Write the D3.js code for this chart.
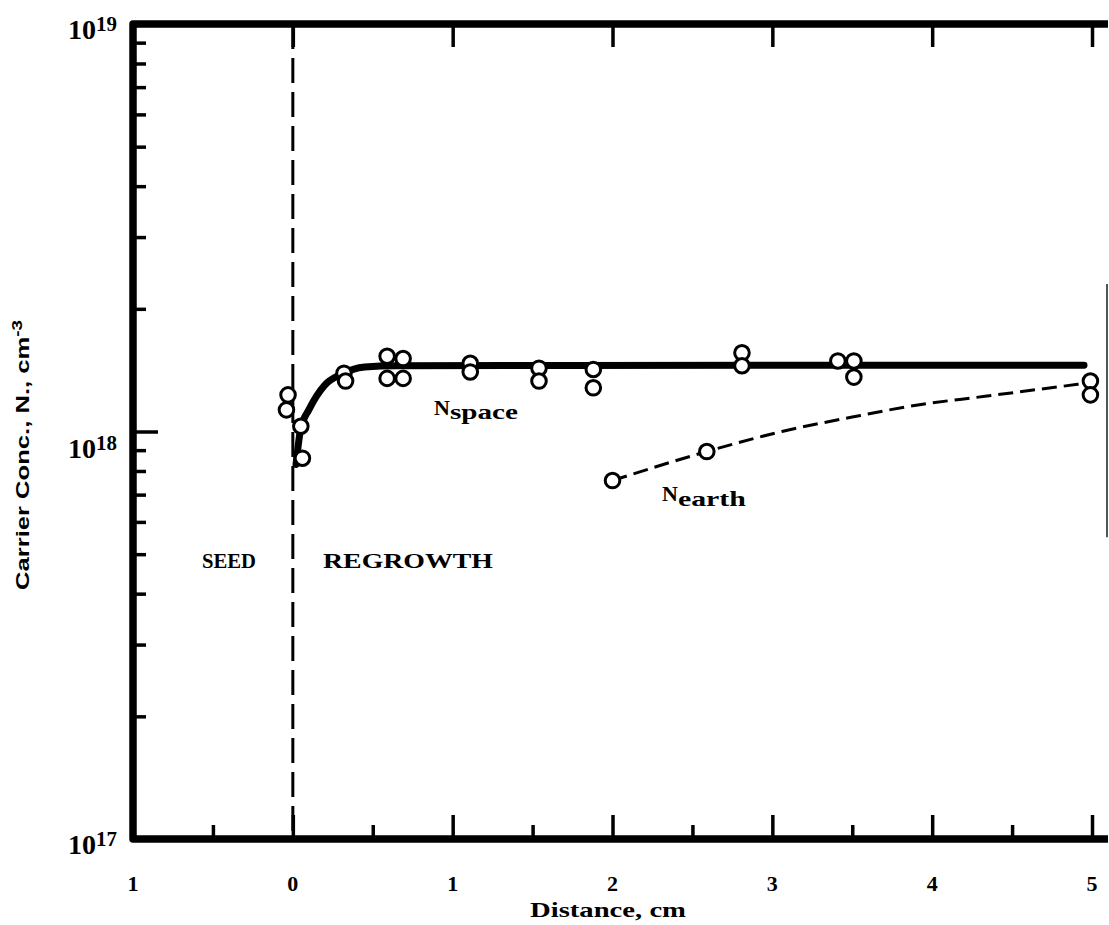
<!DOCTYPE html>
<meta charset="utf-8">
<script src="https://d3js.org/d3.v7.min.js"></script>
<style>
  body { margin: 0; background: #fff; }
  text { font-family: "Liberation Serif", "Times New Roman", serif; font-weight: bold; fill: #000; }
</style>
<body>
<script>

// values: distance (cm) and carrier concentration (cm^-3)
var spaceX = [-0.03, -0.04, 0.05, 0.06, 0.32, 0.33, 0.59, 0.59, 0.69, 0.69, 1.11, 1.11,
              1.54, 1.54, 1.88, 1.88, 2.81, 2.81, 3.41, 3.51, 3.51];
var spaceN = [1.23e18, 1.13e18, 1.03e18, 0.86e18, 1.39e18, 1.33e18, 1.53e18, 1.35e18,
              1.51e18, 1.35e18, 1.47e18, 1.40e18, 1.43e18, 1.33e18, 1.42e18, 1.28e18,
              1.56e18, 1.45e18, 1.49e18, 1.49e18, 1.36e18];
var earthX = [2.0, 2.59, 4.99, 4.99];
var earthN = [0.758e18, 0.893e18, 1.33e18, 1.23e18];

// drawn curves through the points
var spaceFitX = [0.02, 0.05, 0.1, 0.2, 0.3, 0.45, 0.65, 4.95];
var spaceFitN = [0.83e18, 1.02e18, 1.13e18, 1.30e18, 1.38e18, 1.44e18, 1.45e18, 1.455e18];
var earthFitX = [2.0, 2.59, 3.06, 3.5, 3.9, 4.33, 4.94];
var earthFitN = [0.758e18, 0.893e18, 1.0e18, 1.085e18, 1.16e18, 1.22e18, 1.31e18];

// ticks
var xMajor = [-1, 0, 1, 2, 3, 4, 5];
var xLabels = ["1", "0", "1", "2", "3", "4", "5"];
var xMinor = [-0.5, 0.5, 1.5, 2.5, 3.5, 4.5];
var yMajor = [1e17, 1e18, 1e19];
var yExp = ["17", "18", "19"];
var yMinor = [2e17, 3e17, 4e17, 5e17, 6e17, 7e17, 8e17, 9e17,
              2e18, 3e18, 4e18, 5e18, 6e18, 7e18, 8e18, 9e18];

var x = d3.scaleLinear().domain([-1, 5.1]).range([133, 1108]);
var y = d3.scaleLog().domain([1e17, 1e19]).range([839, 24]);

var svg = d3.select("body").append("svg")
    .attr("width", 1109)
    .attr("height", 925);

function tickStyle(g) {
  g.select(".domain").remove();
  g.selectAll("line").attr("stroke", "#000").attr("stroke-width", 3.5);
}

// bottom ticks (pointing up)
svg.append("g")
    .attr("transform", "translate(0," + y(1e17) + ")")
    .call(d3.axisBottom(x).tickValues(xMajor.slice(1)).tickSize(-24).tickFormat(""))
    .call(tickStyle);
svg.append("g")
    .attr("transform", "translate(0," + y(1e17) + ")")
    .call(d3.axisBottom(x).tickValues(xMinor).tickSize(-14).tickFormat(""))
    .call(tickStyle);

// top ticks (pointing down)
svg.append("g")
    .attr("transform", "translate(0," + y(1e19) + ")")
    .call(d3.axisTop(x).tickValues(xMajor.slice(1)).tickSize(-23).tickFormat(""))
    .call(tickStyle);

// left ticks (pointing right)
svg.append("g")
    .attr("transform", "translate(" + x(-1) + ",0)")
    .call(d3.axisLeft(y).tickValues(yMinor).tickSize(-13).tickFormat(""))
    .call(tickStyle);
svg.append("g")
    .attr("transform", "translate(" + x(-1) + ",0)")
    .call(d3.axisLeft(y).tickValues([1e18]).tickSize(-25).tickFormat(""))
    .call(tickStyle);

// frame
svg.append("path")
    .attr("d", "M" + x(5.1) + "," + y(1e19) + "H" + x(-1) + "V" + y(1e17) + "H" + x(5.1))
    .attr("fill", "none")
    .attr("stroke", "#000")
    .attr("stroke-width", 7.5)
    .attr("stroke-linejoin", "round");
svg.append("line")
    .attr("x1", x(5.1) - 1).attr("x2", x(5.1) - 1)
    .attr("y1", y(2.3e18)).attr("y2", y(0.55e18))
    .attr("stroke", "#555").attr("stroke-width", 2);

// seed / regrowth boundary
svg.append("line")
    .attr("x1", x(0)).attr("x2", x(0))
    .attr("y1", y(1e19)).attr("y2", y(1e17))
    .attr("stroke", "#000")
    .attr("stroke-width", 3)
    .attr("stroke-dasharray", "25,9");

// x tick labels
svg.selectAll(".xlab")
  .data(xMajor)
  .enter().append("text")
    .attr("class", "xlab")
    .attr("x", function(d) { return x(d); })
    .attr("y", 891)
    .attr("text-anchor", "middle")
    .style("font-size", "22px")
    .text(function(d, i) { return xLabels[i]; });

// y tick labels 10^n
var ylab = svg.selectAll(".ylab")
  .data(yMajor)
  .enter().append("text")
    .attr("class", "ylab")
    .attr("x", 117)
    .attr("y", function(d) { return y(d) + (d === 1e18 ? 26 : 15); })
    .attr("text-anchor", "end")
    .style("font-size", "28px");
ylab.append("tspan").text("10");
ylab.append("tspan")
    .attr("dy", -8)
    .style("font-size", "21px")
    .text(function(d, i) { return yExp[i]; });

// axis titles
svg.append("text")
    .attr("x", 608)
    .attr("y", 917)
    .attr("text-anchor", "middle")
    .attr("textLength", 156)
    .attr("lengthAdjust", "spacingAndGlyphs")
    .style("font-size", "21px")
    .text("Distance, cm");

var yt = svg.append("text")
    .attr("transform", "translate(29,455) rotate(-90)")
    .attr("text-anchor", "middle")
    .attr("textLength", 270)
    .attr("lengthAdjust", "spacingAndGlyphs")
    .style("font-family", "'Liberation Sans Narrow', 'Liberation Sans', sans-serif")
    .style("font-size", "19px");
yt.append("tspan").text("Carrier Conc., N., cm");
yt.append("tspan").attr("dy", -7).style("font-size", "14px").text("-3");

// curves
var line = d3.line()
    .x(function(d) { return x(d[0]); })
    .y(function(d) { return y(d[1]); })
    .curve(d3.curveMonotoneX);

svg.append("path")
    .datum(spaceFitX.map(function(d, i) { return [d, spaceFitN[i]]; }))
    .attr("d", line)
    .attr("fill", "none")
    .attr("stroke", "#000")
    .attr("stroke-width", 7)
    .attr("stroke-linecap", "round");

svg.append("path")
    .datum(earthFitX.map(function(d, i) { return [d, earthFitN[i]]; }))
    .attr("d", line)
    .attr("fill", "none")
    .attr("stroke", "#000")
    .attr("stroke-width", 3)
    .attr("stroke-dasharray", "15,7");

// data circles
var pts = spaceX.map(function(d, i) { return [d, spaceN[i]]; })
    .concat(earthX.map(function(d, i) { return [d, earthN[i]]; }));

svg.selectAll(".pt")
  .data(pts)
  .enter().append("circle")
    .attr("class", "pt")
    .attr("cx", function(d) { return x(d[0]); })
    .attr("cy", function(d) { return y(d[1]); })
    .attr("r", 7.3)
    .attr("fill", "#fff")
    .attr("stroke", "#000")
    .attr("stroke-width", 3);

// region and curve labels
svg.append("text").attr("x", 202).attr("y", 568)
    .attr("textLength", 54).attr("lengthAdjust", "spacingAndGlyphs")
    .style("font-size", "22px").text("SEED");
svg.append("text").attr("x", 323).attr("y", 568)
    .attr("textLength", 170).attr("lengthAdjust", "spacingAndGlyphs")
    .style("font-size", "22px").text("REGROWTH");

var ns = svg.append("text").attr("x", 434).attr("y", 415)
    .style("font-size", "22px");
ns.append("tspan").text("N");
ns.append("tspan").attr("dy", 4).style("font-size", "21px")
    .attr("textLength", 68).attr("lengthAdjust", "spacingAndGlyphs").text("space");

var ne = svg.append("text").attr("x", 662).attr("y", 501)
    .style("font-size", "22px");
ne.append("tspan").text("N");
ne.append("tspan").attr("dy", 5).style("font-size", "21px")
    .attr("textLength", 68).attr("lengthAdjust", "spacingAndGlyphs").text("earth");

</script>
</body>
